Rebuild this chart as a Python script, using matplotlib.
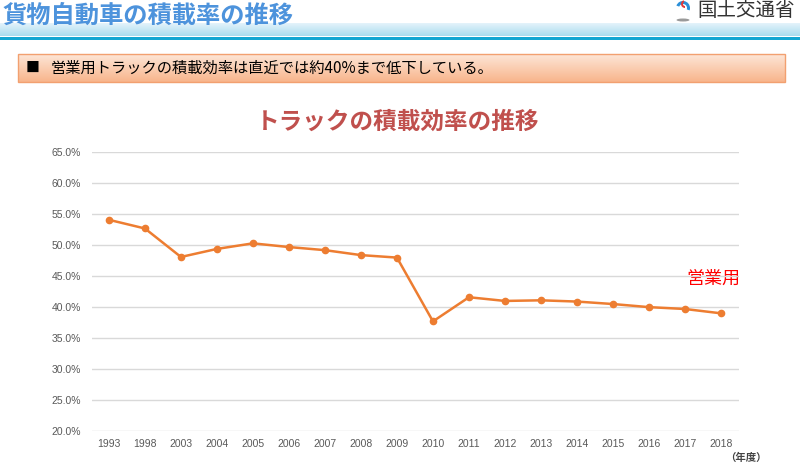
import numpy as np
import matplotlib
matplotlib.use("Agg")
import matplotlib.pyplot as plt
from matplotlib.patches import Rectangle, Wedge, Ellipse

plt.rcParams['font.family'] = ['Noto Sans CJK JP', 'DejaVu Sans']

years = ["1993", "1998", "2003", "2004", "2005", "2006", "2007", "2008", "2009",
         "2010", "2011", "2012", "2013", "2014", "2015", "2016", "2017", "2018"]
rates = [54.1, 52.7, 48.1, 49.4, 50.3, 49.7, 49.2, 48.4, 48.0,
         37.7, 41.6, 41.0, 41.1, 40.9, 40.5, 40.0, 39.7, 39.0]
yticks = [20, 25, 30, 35, 40, 45, 50, 55, 60, 65]

fig = plt.figure(figsize=(8, 4.71), dpi=100)

# page decoration in pixel coordinates
bg = fig.add_axes([0, 0, 1, 1])
bg.set_xlim(0, 800)
bg.set_ylim(471, 0)
bg.axis("off")

band = np.linspace(0, 1, 50).reshape(-1, 1)
bg.imshow(band, cmap=matplotlib.colors.LinearSegmentedColormap.from_list("b", ["#e4f3fb", "#a9dcee"]),
          extent=(0, 800, 36, 23), aspect="auto")
bg.add_patch(Rectangle((0, 36.5), 800, 3, color="#12a6d2", lw=0))
bg.text(3, 16, "貨物自動車の積載率の推移", fontsize=17.5, fontweight="bold", color="#4d93dc",
        va="center", ha="left")

# logo
bg.add_patch(Ellipse((683, 20), 13, 3, color="#9a9a9a", lw=0))
bg.add_patch(Wedge((683, 8), 7, 200, 360, width=3, color="#2b8fd8", lw=0))
bg.add_patch(Wedge((683, 8), 7, 0, 20, width=3, color="#2b8fd8", lw=0))
bg.add_patch(Wedge((685, 4), 4, 90, 250, width=2, color="#e23a3a", lw=0))
bg.text(697, 11, "国土交通省", fontsize=14, color="#333333", va="center", ha="left")

# summary box
box = np.linspace(0, 1, 50).reshape(-1, 1)
bg.imshow(box, cmap=matplotlib.colors.LinearSegmentedColormap.from_list("o", ["#fde6d7", "#f8b58c"]),
          extent=(18, 785, 82, 54), aspect="auto")
bg.add_patch(Rectangle((18, 54), 767, 28, fill=False, ec="#f2a070", lw=1))
bg.text(26, 68, "■", fontsize=10, color="black", va="center", ha="left")
bg.text(51, 68, "営業用トラックの積載効率は直近では約40%まで低下している。", fontsize=11,
        color="black", va="center", ha="left")

bg.text(398, 122, "トラックの積載効率の推移", fontsize=17, fontweight="bold",
        color="#c0504d", ha="center", va="center")
bg.text(713, 279, "営業用", fontsize=13, color="#ff0000", ha="center", va="center")
bg.text(746, 458, "（年度）", fontsize=7.5, color="#444444", ha="center", va="center",
        fontweight="bold")

# chart
ax = fig.add_axes([92 / 800, 1 - 431 / 471, (739 - 92) / 800, (431 - 152.3) / 471])
ax.set_facecolor("none")
x = np.arange(len(years))
ax.plot(x, rates, color="#ed7d31", lw=1.8, marker="o", markersize=4.5, zorder=3)
ax.set_ylim(20, 65)
ax.set_xlim(-0.47, len(years) - 0.5)
ax.set_yticks(yticks)
ax.set_yticklabels([f"{v:.1f}%" for v in yticks], family=["Liberation Sans"])
ax.set_xticks(x)
ax.set_xticklabels(years, family=["Liberation Sans"])
ax.tick_params(axis="both", length=0, labelsize=7.5, labelcolor="#595959")
ax.tick_params(axis="y", pad=8)
ax.tick_params(axis="x", pad=6)
ax.grid(axis="y", color="#d9d9d9", lw=1)
for s in ax.spines.values():
    s.set_visible(False)

fig.savefig("out.png", dpi=100)
